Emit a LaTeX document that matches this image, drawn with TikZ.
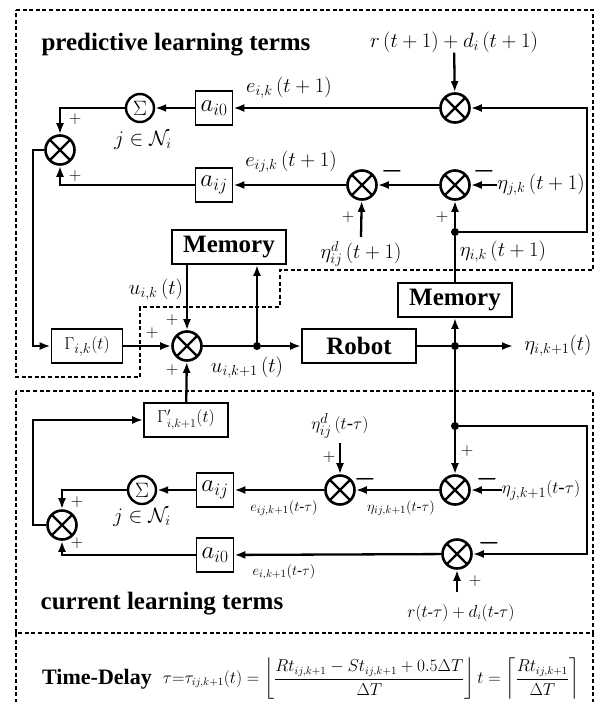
\documentclass[tikz,border=0pt]{standalone}
\usepackage{amsmath}
\usepackage[no-math]{fontspec}
\setmainfont{Liberation Serif}
\usetikzlibrary{arrows.meta,calc}
\tikzset{
  conn/.style={line width=2.3pt},
  arr/.style={conn,-{Latex[length=11pt,width=8pt]}},
  blk/.style={draw,line width=1.7pt,minimum height=34pt,inner sep=0pt},
  mult/.style={circle,draw,line width=2.6pt,minimum size=29pt,inner sep=0pt,
    path picture={\draw[line width=2.4pt] (path picture bounding box.north west) -- (path picture bounding box.south east)
      (path picture bounding box.north east) -- (path picture bounding box.south west);}},
  sumc/.style={circle,draw,line width=2.4pt,minimum size=28pt,inner sep=0pt,font=\fontsize{20}{22}\selectfont},
  jdot/.style={circle,fill,inner sep=0pt,minimum size=8pt},
  region/.style={line width=2.8pt,dash pattern=on 4pt off 2.6pt},
  lbl/.style={inner sep=0pt,font=\fontsize{20}{22}\selectfont},
  mlbl/.style={inner sep=0pt,font=\fontsize{19}{21}\selectfont},
  slbl/.style={inner sep=0pt,font=\fontsize{15}{17}\selectfont},
  pm/.style={inner sep=0pt,font=\fontsize{18}{18}\selectfont},
  mn/.style={inner sep=0pt,font=\fontsize{25}{25}\selectfont\boldmath},
  ttl/.style={inner sep=0pt,font=\fontsize{25}{28}\selectfont\bfseries},
  boxt/.style={font=\fontsize{25}{28}\selectfont\bfseries},
  abox/.style={blk,minimum width=37pt,font=\fontsize{23}{25}\selectfont}
}
\begin{document}
\begin{tikzpicture}[x=1pt,y=-1pt]
\useasboundingbox (0,0) rectangle (601,702);
% regions
\draw[region] (16,10) -- (593,10) -- (593,270) -- (280,270) -- (280,307) -- (140,307) -- (140,377) -- (16,377) -- cycle;
\draw[region] (16,391) rectangle (593,633);
\draw[region] (16,633) -- (16,704) (593,633) -- (593,704);
\node[ttl] (ptitle) at (176,45) {predictive learning terms};
\node[ttl] (ctitle) at (162,604) {current learning terms};
% predictive part
\node[inner sep=0pt,font=\fontsize{22}{24}\selectfont] (rtop) at (454,42) {$r\,(t+1)+d_i\,(t+1)$};
\node[mult] (M1) at (455,108) {};
\node[mult] (M2) at (455,185) {};
\node[mult] (M3) at (362,185) {};
\node[mult] (M8) at (60,150) {};
\node[sumc] (S1) at (140,108) {$\Sigma$};
\node[abox] (A1) at (214,108) {$a_{i0}$};
\node[abox] (A2) at (214,185) {$a_{ij}$};
\node[jdot] (J1) at (455,232) {};
\coordinate (C1) at (587,232);
\coordinate (C2) at (587,108);
\node[lbl] (e1) at (289,88) {$e_{i,k}\,(t+1)$};
\node[lbl] (e2) at (291,162) {$e_{ij,k}\,(t+1)$};
\node[lbl] (N1) at (143,140) {$j\in\mathcal{N}_i$};
\node[lbl] (etaj) at (541,185) {$\eta_{j,k}\,(t+1)$};
\node[lbl] (etad) at (361,254) {$\eta^{d}_{ij}\,(t+1)$};
\node[lbl] (etaik) at (503,252) {$\eta_{i,k}\,(t+1)$};
\draw[arr] (rtop) -- (M1);
\draw[arr] (J1) -- (C1) -- (C2) -- (M1);
\draw[arr] (M1) -- (A1);
\draw[arr] (A1) -- (S1);
\draw[arr] (S1) -| (M8);
\draw[arr] (etaj.west) -- (M2);
\draw[arr] (M2) -- (M3);
\draw[arr] (J1) -- (M2);
\draw[arr] (etad.north |- 0,237) -- (M3);
\draw[arr] (M3) -- (A2);
\draw[arr] (A2) -| (M8);
\node[pm] (p1) at (75,119) {$+$};
\node[pm] (p2) at (75,176) {$+$};
\node[mn] (m1) at (484,171) {$-$};
\node[mn] (m2) at (392,171) {$-$};
\node[pm] (p3) at (442,217) {$+$};
\node[pm] (p4) at (348,217) {$+$};
% middle part
\node[blk,minimum width=114pt,boxt] (Mem1) at (229,247) {Memory};
\node[blk,minimum width=114pt,boxt] (Mem2) at (455,300) {Memory};
\node[blk,minimum width=114pt,boxt] (Rob) at (359,346) {Robot};
\node[mult] (M0) at (187,346) {};
\node[blk,minimum width=71pt,font=\fontsize{19}{21}\selectfont] (G) at (87,346) {$\Gamma_{i,k}(t)$};
\node[blk,minimum width=84pt,font=\fontsize{17}{19}\selectfont] (Gp) at (186,420) {$\Gamma'_{i,k+1}(t)$};
\node[jdot] (J2) at (257,346) {};
\node[jdot] (J3) at (455,346) {};
\coordinate (L1) at (33,150);
\coordinate (Out) at (513,346);
\node[lbl] (uik) at (156,290) {$u_{i,k}\,(t)$};
\node[lbl] (uik1) at (247,368) {$u_{i,k+1}\,(t)$};
\node[lbl] (etaout) at (558,346) {$\eta_{i,k+1}(t)$};
\draw[conn] (Mem2) -- (J1);
\draw[arr] (M8.west) -- (L1) |- (G);
\draw[arr] (G) -- (M0);
\draw[arr] (Mem1.south -| M0) -- (M0);
\draw[conn] (M0) -- (J2);
\draw[arr] (J2) -- (Rob);
\draw[arr] (J2) -- (J2 |- Mem1.south);
\draw[conn] (Rob) -- (J3);
\draw[arr] (J3) -- (Out);
\draw[arr] (J3) -- (Mem2);
\draw[arr] (Gp) -- (M0);
\node[pm] (p5) at (172,320) {$+$};
\node[pm] (p6) at (152,333) {$+$};
\node[pm] (p7) at (172,370) {$+$};
% current part
\node[jdot] (J4) at (455,426) {};
\coordinate (C3) at (587,426);
\coordinate (C4) at (587,554);
\coordinate (L2) at (33,525);
\node[mult] (M4) at (340,490) {};
\node[mult] (M5) at (455,490) {};
\node[mult] (M6) at (457,554) {};
\node[mult] (M7) at (62,525) {};
\node[sumc] (S2) at (142,490) {$\Sigma$};
\node[abox] (B1) at (215,490) {$a_{ij}$};
\node[abox] (B2) at (215,555) {$a_{i0}$};
\node[lbl] (N2) at (142,517) {$j\in\mathcal{N}_i$};
\node[mlbl] (etadl) at (340,426) {$\eta^{d}_{ij}\,(t\text{-}\tau)$};
\node[mlbl] (etajl) at (541,490) {$\eta_{j,k+1}(t\text{-}\tau)$};
\node[slbl] (etaijl) at (401,508) {$\eta_{ij,k+1}(t\text{-}\tau)$};
\node[slbl] (e3) at (284,508) {$e_{ij,k+1}(t\text{-}\tau)$};
\node[slbl] (e4) at (284,572) {$e_{i,k+1}(t\text{-}\tau)$};
\node[mlbl,font=\fontsize{16}{18}\selectfont] (rlow) at (461,613) {$r(t\text{-}\tau)+d_i(t\text{-}\tau)$};
\draw[conn] (J3) -- (J4);
\draw[arr] (J4) -- (M5);
\draw[arr] (J4) -- (C3) -- (C4) -- (M6);
\draw[arr] (etajl.west) -- (M5);
\draw[arr] (M5) -- (M4);
\draw[arr] (etadl.south |- 0,443) -- (M4);
\draw[arr] (M4) -- (B1);
\draw[arr] (B1) -- (S2);
\draw[arr] (S2) -| (M7);
\draw[arr] (M6) -- (B2);
\draw[arr] (B2) -| (M7);
\draw[arr] (M6 |- 0,592) -- (M6);
\draw[arr] (M7.west) -- (L2) |- (Gp);
\node[pm] (p8) at (329,457) {$+$};
\node[mn] (m3) at (365,479) {$-$};
\node[pm] (p9) at (467,451) {$+$};
\node[mn] (m4) at (487,479) {$-$};
\node[mn] (m5) at (489,543) {$-$};
\node[pm] (p10) at (475,581) {$+$};
\node[pm] (p11) at (77,502) {$+$};
\node[pm] (p12) at (77,543) {$+$};
% time delay
\node[ttl,font=\fontsize{22}{24}\selectfont\bfseries] (td) at (97,679) {Time-Delay};
\node[inner sep=0pt,font=\fontsize{16}{18}\selectfont] (tdf) at (371,679) {$\tau{=}\tau_{ij,k+1}(t)=\left\lfloor \dfrac{Rt_{ij,k+1}-St_{ij,k+1}+0.5\Delta T}{\Delta T}\right\rfloor t=\left\lceil\dfrac{Rt_{ij,k+1}}{\Delta T}\right\rceil$};
\end{tikzpicture}
\end{document}
